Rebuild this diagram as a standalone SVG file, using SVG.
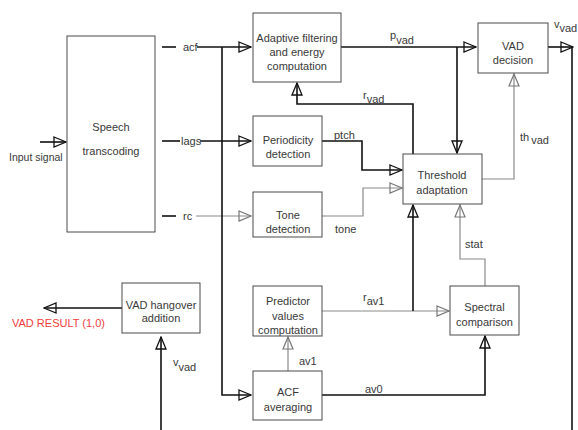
<svg xmlns="http://www.w3.org/2000/svg" width="578" height="430" viewBox="0 0 578 430">
<style>
text{font-family:"Liberation Sans",Arial,sans-serif;font-size:11px;fill:#383838}
.c{text-anchor:middle}
.box{fill:#fff;stroke:#4a4a4a;stroke-width:1}
.k{fill:none;stroke:#111;stroke-width:1.6}
.g{fill:none;stroke:#8a8a8a;stroke-width:1.2}
.ak{marker-end:url(#ak)}
.ag{marker-end:url(#ag)}
.red{fill:#f23c3c}
</style>
<defs>
<marker id="ak" markerUnits="userSpaceOnUse" markerWidth="14" markerHeight="12" viewBox="0 0 14 12" refX="13" refY="6" orient="auto">
<path d="M1,1 L13,6 L1,11 Z" fill="none" stroke="#111" stroke-width="1.3"/>
</marker>
<marker id="ag" markerUnits="userSpaceOnUse" markerWidth="14" markerHeight="12" viewBox="0 0 14 12" refX="13" refY="6" orient="auto">
<path d="M1,1 L13,6 L1,11 Z" fill="none" stroke="#777" stroke-width="1.2"/>
</marker>
</defs>
<rect width="578" height="430" fill="#fff"/>

<g id="connectors">
<path class="k ak" d="M40,142 H66"/>
<path class="k" d="M162,47 H176"/>
<path class="k ak" d="M197,47 H251"/>
<path class="k" d="M162,141 H180"/>
<path class="k ak" d="M200,141 H251"/>
<path class="k" d="M162,216 H176"/>
<path class="g ag" d="M196,216 H251"/>
<path class="k ak" d="M222,47 V395 H251"/>
<path class="k ak" d="M341,47 H476"/>
<path class="k ak" d="M457,47 V153"/>
<path class="k ak" d="M548,47 H573"/>
<path class="k" d="M572,47 V430"/>
<path class="k ak" d="M413,154 V104 H297 V83"/>
<path class="k ak" d="M322,141 H362 V170 H402"/>
<path class="g ag" d="M322,216 H363 V188 H402"/>
<path class="g ag" d="M482,179 H514 V74"/>
<path class="g ag" d="M485,286 V259 H460 V205"/>
<path class="g ag" d="M322,311 H449"/>
<path class="k ak" d="M413,311 V205"/>
<path class="g ag" d="M288,371 V337"/>
<path class="k ak" d="M322,395 H485 V336"/>
<path class="k ak" d="M122,308 H44"/>
<path class="k ak" d="M161,430 V337"/>

<text x="9" y="161" style="font-size:10.5px">Input signal</text>
<text x="183" y="51">acf</text>
<text x="181" y="145">lags</text>
<text x="183" y="220">rc</text>
<text x="390" y="39">p<tspan dy="5">vad</tspan></text>
<text x="363" y="99">r<tspan dy="4">vad</tspan></text>
<text x="554" y="28">v<tspan dy="4">vad</tspan></text>
<text x="520" y="141">th<tspan dx="2" dy="3">vad</tspan></text>
<text x="334" y="139">ptch</text>
<text x="335" y="233">tone</text>
<text x="465" y="248">stat</text>
<text x="363" y="301">r<tspan dy="4">av1</tspan></text>
<text x="299" y="365">av1</text>
<text x="365" y="393">av0</text>
<text x="173" y="366">v<tspan dy="5">vad</tspan></text>
<text class="red" x="12" y="327">VAD RESULT (1,0)</text>
</g>

<g id="speech">
<rect class="box" x="67" y="36" width="88" height="196"/>
<text class="c" x="111" y="131">Speech</text>
<text class="c" x="111" y="155">transcoding</text>
</g>
<g id="adaptive">
<rect class="box" x="253" y="13" width="88" height="69"/>
<text class="c" x="297" y="42">Adaptive filtering</text>
<text class="c" x="297" y="56">and energy</text>
<text class="c" x="297" y="70">computation</text>
</g>
<g id="periodicity">
<rect class="box" x="253" y="116" width="69" height="50"/>
<text class="c" x="288" y="144">Periodicity</text>
<text class="c" x="288" y="158">detection</text>
</g>
<g id="tone">
<rect class="box" x="253" y="192" width="69" height="45"/>
<text class="c" x="288" y="219">Tone</text>
<text class="c" x="288" y="233">detection</text>
</g>
<g id="predictor">
<rect class="box" x="253" y="286" width="69" height="50"/>
<text class="c" x="288" y="305">Predictor</text>
<text class="c" x="288" y="320">values</text>
<text class="c" x="288" y="334">computation</text>
</g>
<g id="acfavg">
<rect class="box" x="253" y="371" width="69" height="49"/>
<text class="c" x="288" y="396">ACF</text>
<text class="c" x="288" y="411">averaging</text>
</g>
<g id="threshold">
<rect class="box" x="403" y="154" width="79" height="50"/>
<text class="c" x="442" y="179">Threshold</text>
<text class="c" x="442" y="194">adaptation</text>
</g>
<g id="vaddecision">
<rect class="box" x="478" y="23" width="70" height="50"/>
<text class="c" x="513" y="50">VAD</text>
<text class="c" x="513" y="64">decision</text>
</g>
<g id="spectral">
<rect class="box" x="450" y="286" width="69" height="49"/>
<text class="c" x="484.5" y="311">Spectral</text>
<text class="c" x="484.5" y="326">comparison</text>
</g>
<g id="hangover">
<rect class="box" x="122" y="283" width="78" height="50"/>
<text class="c" x="161" y="309">VAD hangover</text>
<text class="c" x="161" y="322">addition</text>
</g>
</svg>
